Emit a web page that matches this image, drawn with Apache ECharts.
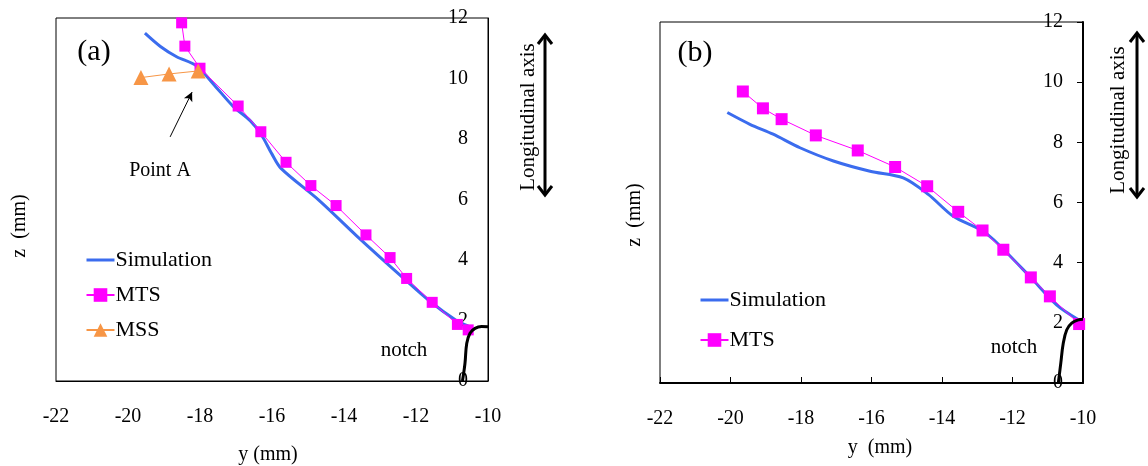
<!DOCTYPE html>
<html>
<head>
<meta charset="utf-8">
<script src="https://cdn.jsdelivr.net/npm/echarts@6/dist/echarts.min.js"></script>
<style>html,body{margin:0;padding:0;background:#fff}#c{width:1148px;height:466px}</style>
</head>
<body>
<div id="c"></div>
<script>
// ---- data ----
const xRange = [-22, -10];
const yRange = [0, 12];
const tickStep = 2;

const simA = [[-19.53,11.50],[-19.1,11.06],[-18.65,10.72],[-18.1,10.42],[-17.6,9.78],[-17.08,9.08],[-16.6,8.6],[-16.3,8.15],[-16.0,7.5],[-15.75,7.03],[-14.7,5.98],[-13.65,4.8],[-12.35,3.4],[-11.6,2.62],[-10.9,2.02],[-10.55,1.82]];
const mtsA = [[-18.51,11.84],[-18.42,11.07],[-18.0,10.34],[-16.94,9.09],[-16.31,8.24],[-15.61,7.23],[-14.92,6.46],[-14.22,5.80],[-13.39,4.83],[-12.72,4.08],[-12.26,3.39],[-11.55,2.60],[-10.85,1.87],[-10.55,1.69]];
const mssA = [[-19.64,10.03],[-18.86,10.15],[-18.05,10.25]];
const notchA = [[-10.71,0],[-10.64,0.58],[-10.59,1.25],[-10.5,1.58],[-10.36,1.74],[-10.18,1.80],[-10.0,1.79]];

const simB = [[-20.09,8.99],[-19.45,8.6],[-18.79,8.27],[-18.03,7.82],[-17.08,7.38],[-16.04,7.04],[-15.1,6.82],[-14.39,6.27],[-13.68,5.54],[-12.92,5.1],[-12.54,4.77],[-11.5,3.53],[-10.75,2.6],[-10.15,2.12]];
const mtsB = [[-19.65,9.69],[-19.08,9.13],[-18.55,8.77],[-17.58,8.23],[-16.39,7.73],[-15.33,7.18],[-14.42,6.54],[-13.54,5.69],[-12.85,5.07],[-12.26,4.43],[-11.48,3.51],[-10.94,2.88],[-10.11,1.96]];
const notchB = [[-10.70,0],[-10.63,0.66],[-10.56,1.32],[-10.46,1.77],[-10.32,1.99],[-10.13,2.1],[-10.0,2.12]];

const seriesNames = ['Simulation', 'MTS', 'MSS'];

// ---- styles ----
const FONT = 'Liberation Serif';
const BLUE = '#3B6CEE';
const MAG = '#FF00FF';
const ORANGE = '#F79646';

function xAx(gi, w, ticks) {
  return {
    gridIndex: gi, type: 'value', min: xRange[0], max: xRange[1], interval: tickStep,
    position: 'bottom',
    axisLine: {show: true, onZero: false, lineStyle: {color: '#000', width: w}},
    axisTick: {show: ticks, inside: true, length: 6, lineStyle: {color: '#000', width: 1}},
    axisLabel: {color: '#000', fontFamily: FONT, fontSize: 20, margin: 26},
    splitLine: {show: false}
  };
}
function yAx(gi, w, ticks) {
  return {
    gridIndex: gi, type: 'value', min: yRange[0], max: yRange[1], interval: tickStep,
    position: 'right',
    axisLine: {show: true, onZero: false, lineStyle: {color: '#000', width: w}},
    axisTick: {show: ticks, inside: true, length: 6, lineStyle: {color: '#000', width: 1}},
    axisLabel: {color: '#000', fontFamily: FONT, fontSize: 20, inside: true, margin: 20},
    splitLine: {show: false}
  };
}

function txt(x, y, s, size, rot) {
  return {type: 'text', x: x, y: y, rotation: rot || 0,
    style: {text: s, fill: '#000', font: size + 'px "' + FONT + '"', textAlign: 'center', textVerticalAlign: 'middle'}, z: 10};
}
function dblArrow(x, y1, y2) {
  const lw = 3, hw = 7, hh = 9;
  return [
    {type: 'line', shape: {x1: x, y1: y1 + 1, x2: x, y2: y2 - 1}, style: {stroke: '#000', lineWidth: lw}, z: 10},
    {type: 'polyline', shape: {points: [[x - hw, y1 + hh], [x, y1], [x + hw, y1 + hh]]}, style: {stroke: '#000', lineWidth: lw, fill: null}, z: 10},
    {type: 'polyline', shape: {points: [[x - hw, y2 - hh], [x, y2], [x + hw, y2 - hh]]}, style: {stroke: '#000', lineWidth: lw, fill: null}, z: 10}
  ];
}
function legendItems(n) {
  return seriesNames.slice(0, n).map(function (nm, i) {
    if (i === 0) return {name: nm, itemStyle: {opacity: 0}, lineStyle: {width: 3}};
    return {name: nm};
  });
}

const chart = echarts.init(document.getElementById('c'), null, {renderer: 'canvas'});
const option = {
  backgroundColor: '#fff',
  animation: false,
  grid: [
    {left: 56, top: 18, width: 432, height: 363, show: true, borderColor: '#000', borderWidth: 1, backgroundColor: 'transparent'},
    {left: 660, top: 22, width: 423, height: 361, show: true, borderColor: '#000', borderWidth: 1, backgroundColor: 'transparent'}
  ],
  xAxis: [xAx(0, 1, false), xAx(1, 2, true)],
  yAxis: [yAx(0, 1, false), yAx(1, 2, true)],
  legend: [
    {orient: 'vertical', left: 80, top: 244, itemWidth: 28, itemHeight: 17, itemGap: 13,
      data: legendItems(3), textStyle: {fontFamily: FONT, fontSize: 22, color: '#000', padding: [0, 0, 0, -4]}, selectedMode: false},
    {orient: 'vertical', left: 694, top: 284, itemWidth: 28, itemHeight: 17, itemGap: 18,
      data: legendItems(2), textStyle: {fontFamily: FONT, fontSize: 22, color: '#000', padding: [0, 0, 0, -4]}, selectedMode: false}
  ],
  series: [
    {name: seriesNames[0], type: 'line', xAxisIndex: 0, yAxisIndex: 0, data: simA, smooth: 0.3, symbol: 'none', lineStyle: {color: BLUE, width: 3}, itemStyle: {color: BLUE}, z: 2},
    {name: seriesNames[1], type: 'line', xAxisIndex: 0, yAxisIndex: 0, data: mtsA, symbol: 'rect', symbolSize: 11, lineStyle: {color: MAG, width: 1}, itemStyle: {color: MAG}, z: 3},
    {name: seriesNames[2], type: 'line', xAxisIndex: 0, yAxisIndex: 0, data: mssA, symbol: 'triangle', symbolSize: 15, lineStyle: {color: ORANGE, width: 1}, itemStyle: {color: ORANGE}, z: 4,
      markLine: {silent: true, symbol: ['none', 'arrow'], symbolSize: [7, 9], label: {show: false},
        lineStyle: {color: '#000', width: 1, type: 'solid'},
        data: [[{coord: [-18.83, 8.07]}, {coord: [-18.22, 9.55]}]]}},
    {name: 'notch', type: 'line', xAxisIndex: 0, yAxisIndex: 0, data: notchA, smooth: 0.4, symbol: 'none', lineStyle: {color: '#000', width: 3}, z: 5},
    {name: seriesNames[0], type: 'line', xAxisIndex: 1, yAxisIndex: 1, data: simB, smooth: 0.3, symbol: 'none', lineStyle: {color: BLUE, width: 3}, itemStyle: {color: BLUE}, z: 2},
    {name: seriesNames[1], type: 'line', xAxisIndex: 1, yAxisIndex: 1, data: mtsB, symbol: 'rect', symbolSize: 12, lineStyle: {color: MAG, width: 1}, itemStyle: {color: MAG}, z: 3},
    {name: 'notch', type: 'line', xAxisIndex: 1, yAxisIndex: 1, data: notchB, smooth: 0.4, symbol: 'none', lineStyle: {color: '#000', width: 3}, z: 5}
  ],
  graphic: [
    txt(94, 52, '(a)', 30),
    txt(695, 53, '(b)', 30),
    txt(160, 171, 'Point A', 20),
    txt(404, 350, 'notch', 21),
    txt(1014, 347, 'notch', 21),
    txt(268, 455, 'y (mm)', 20),
    txt(880, 448, 'y  (mm)', 20),
    txt(20, 226, 'z  (mm)', 20, Math.PI / 2),
    txt(635, 215, 'z  (mm)', 20, Math.PI / 2),
    txt(528, 117, 'Longitudinal axis', 21, Math.PI / 2),
    txt(1118, 120, 'Longitudinal axis', 21, Math.PI / 2)
  ].concat(dblArrow(545, 35, 195), dblArrow(1137, 33, 197))
};
chart.setOption(option);
</script>
</body>
</html>
